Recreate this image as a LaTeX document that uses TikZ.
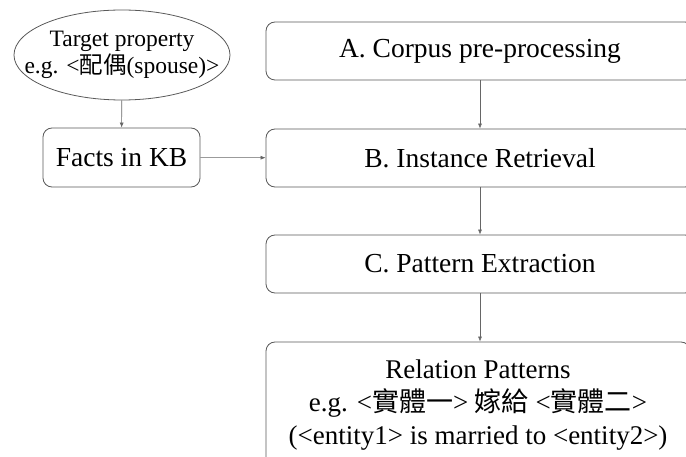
\documentclass[tikz,border=0pt]{standalone}
\usepackage{fontspec}
\setmainfont{Liberation Serif}
\newfontfamily\cjk{Noto Sans CJK TC}
\usetikzlibrary{arrows.meta,shapes.geometric}

\begin{document}
\begin{tikzpicture}[x=1pt, y=-1pt,
    >={Latex[length=5pt,width=4pt]},   % kleine Pfeilspitzen
    stage/.style={draw=black!65, line width=0.8pt, rounded corners=9pt, fill=white,
      minimum width=428pt, minimum height=58pt, inner sep=0pt, font=\fontsize{27.5}{33}\selectfont},
    link/.style={->, draw=black!60, line width=0.6pt},
    font=\fontsize{27.5}{33}\selectfont]
    % Bildbereich
    \useasboundingbox (0,0) rectangle (686,457);
    \clip (0,0) rectangle (686,457);
    % Eingaben links
    \node[draw=black!65, line width=0.8pt, ellipse, minimum width=216pt, minimum height=90pt,
      inner xsep=-30pt, inner ysep=0pt,
      align=center, font=\fontsize{23.5}{27}\selectfont] (target) at (122,55)
      {Target property\\e.g. <{\cjk 配偶}(spouse)>};
    \node[stage, minimum width=157pt, minimum height=59pt] (facts) at (121.5,157.5) {Facts in KB};
    % Verarbeitungsschritte
    \node[stage] (corpus) at (480,51) {A. Corpus pre-processing};
    \node[stage] (retrieval) at (480,158) {B. Instance Retrieval};
    \node[stage] (extraction) at (480,264) {C. Pattern Extraction};
    \node[stage, minimum width=424pt, minimum height=126pt, align=center,
      font=\fontsize{27}{33}\selectfont] (patterns) at (478,405)
      {Relation Patterns\\e.g. <{\cjk 實體一}> {\cjk 嫁給} <{\cjk 實體二}>\\(<entity1> is married to <entity2>)};
    % Pfeile
    \draw[link] (target) -- (facts);
    \draw[link] (facts) -- (retrieval);
    \draw[link] (corpus) -- (retrieval);
    \draw[link] (retrieval) -- (extraction);
    \draw[link] (extraction.south) -- (extraction.south |- patterns.north);
\end{tikzpicture}
\end{document}
